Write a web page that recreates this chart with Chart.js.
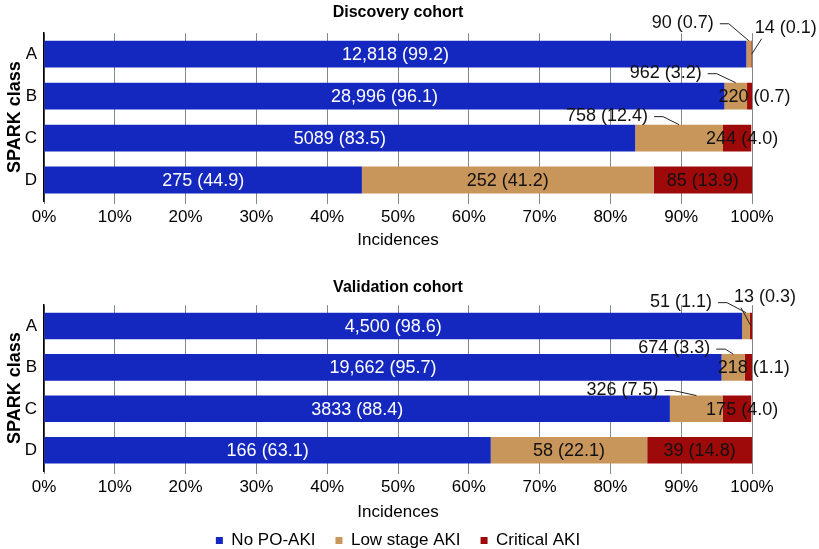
<!DOCTYPE html>
<html>
<head>
<meta charset="utf-8">
<script src="https://cdn.jsdelivr.net/npm/chart.js@4"></script>
<style>
  body { margin: 0; background: #fff; }
  canvas { display: block; }
</style>
</head>
<body>
<canvas id="discChart" width="819" height="270"></canvas>
<canvas id="valChart" width="819" height="279"></canvas>
<script>
"use strict";

// SPARK-klasser och serier
const classes = ['A', 'B', 'C', 'D'];
const seriesNames = ['No PO-AKI', 'Low stage AKI', 'Critical AKI'];
const xTicks = [0, 10, 20, 30, 40, 50, 60, 70, 80, 90, 100];

// Discovery cohort: antal och procent
const discNoAkiN = ['12,818', '28,996', '5089', '275'];
const discNoAkiPct = [99.2, 96.1, 83.5, 44.9];
const discLowN = ['90', '962', '758', '252'];
const discLowPct = [0.7, 3.2, 12.4, 41.2];
const discCritN = ['14', '220', '244', '85'];
const discCritPct = [0.1, 0.7, 4.0, 13.9];

// Validation cohort: antal och procent
const valNoAkiN = ['4,500', '19,662', '3833', '166'];
const valNoAkiPct = [98.6, 95.7, 88.4, 63.1];
const valLowN = ['51', '674', '326', '58'];
const valLowPct = [1.1, 3.3, 7.5, 22.1];
const valCritN = ['13', '218', '175', '39'];
const valCritPct = [0.3, 1.1, 4.0, 14.8];

const colors = ['#1428bf', '#c8955a', '#9e0a0a'];
const FONT = '"Liberation Sans", Arial, Helvetica, sans-serif';

// callouts: dataset, rad, förskjutning från segmentets topp-mitt
const discCallouts = [
  { ds: 1, row: 0, dx: -35, dy: -18, align: 'right' },
  { ds: 2, row: 0, dx: 3, dy: -13, align: 'left' },
  { ds: 1, row: 1, dx: -34, dy: -10, align: 'right' },
  { ds: 1, row: 2, dx: -31, dy: -9, align: 'right' }
];
const valCallouts = [
  { ds: 1, row: 0, dx: -34, dy: -11, align: 'right' },
  { ds: 2, row: 0, dx: -17, dy: -16, align: 'left' },
  { ds: 1, row: 1, dx: -23, dy: -6, align: 'right' },
  { ds: 1, row: 2, dx: -38, dy: -6, align: 'right' }
];

// Plugin som skriver ut etiketterna på staplarna
const barLabels = {
  id: 'barLabels',
  afterDatasetsDraw(chart, args, opts) {
    const ctx = chart.ctx;
    ctx.save();
    ctx.font = '18px ' + FONT;
    ctx.textBaseline = 'middle';
    chart.data.datasets.forEach((ds, di) => {
      const meta = chart.getDatasetMeta(di);
      meta.data.forEach((bar, i) => {
        const text = ds.counts[i] + ' (' + ds.data[i].toFixed(1) + ')';
        const left = bar.base, right = bar.x;
        const cx = (left + right) / 2;
        const top = bar.y - bar.height / 2;
        const call = opts.callouts.find(c => c.ds === di && c.row === i);
        ctx.fillStyle = di === 0 ? '#fff' : '#111';
        if (call) {
          const tx = cx + call.dx, ty = top + call.dy;
          ctx.fillStyle = '#111';
          ctx.textAlign = call.align;
          ctx.fillText(text, tx, ty);
          ctx.strokeStyle = '#222';
          ctx.lineWidth = 1;
          ctx.beginPath();
          if (call.align === 'right') {
            ctx.moveTo(tx + 6, ty + 1);
            ctx.lineTo(tx + 15, ty + 1);
            ctx.lineTo(cx, top);
          } else {
            ctx.moveTo(tx + 7, ty + 11);
            ctx.lineTo(cx, bar.y);
          }
          ctx.stroke();
        } else {
          const w = ctx.measureText(text).width;
          ctx.textAlign = 'center';
          ctx.fillText(text, w > right - left ? cx + 5 : cx, bar.y + 1);
        }
      });
    });
    ctx.restore();
  }
};

function makeDatasets(pcts, counts) {
  return seriesNames.map((name, k) => ({
    label: name,
    data: pcts[k],
    counts: counts[k],
    backgroundColor: colors[k],
    borderWidth: 0,
    barPercentage: 0.64,
    categoryPercentage: 1
  }));
}

function drawPanel(id, title, pcts, counts, callouts, showLegend, opt) {
  const ctx = document.getElementById(id);
  new Chart(ctx, {
    type: 'bar',
    data: { labels: classes, datasets: makeDatasets(pcts, counts) },
    plugins: [barLabels],
    options: {
      indexAxis: 'y',
      responsive: false,
      animation: false,
      layout: { padding: { left: 0, right: 67, top: 0, bottom: opt.bottomPad } },
      plugins: {
        barLabels: { callouts: callouts },
        tooltip: { enabled: false },
        title: {
          display: true,
          text: title,
          fullSize: false,
          color: '#000',
          font: { family: FONT, size: 16, weight: 'bold' },
          padding: { top: opt.titleTop, bottom: opt.titleBottom }
        },
        legend: {
          display: showLegend,
          position: 'bottom',
          fullSize: false,
          labels: {
            color: '#000',
            font: { family: FONT, size: 17 },
            boxWidth: 7,
            boxHeight: 7,
            padding: 20
          }
        }
      },
      scales: {
        x: {
          stacked: true,
          min: 0,
          max: 100,
          afterBuildTicks: scale => { scale.ticks = xTicks.map(v => ({ value: v })); },
          afterFit: scale => { scale.height = opt.xHeight; },
          grid: { color: '#7d8a90', lineWidth: 1, drawTicks: true, tickLength: 3 },
          border: { display: false },
          ticks: {
            color: '#000',
            font: { family: FONT, size: 17 },
            padding: 3,
            maxRotation: 0,
            callback: v => v + '%'
          },
          title: {
            display: true,
            text: 'Incidences',
            color: '#000',
            font: { family: FONT, size: 17 },
            padding: { top: 0, bottom: opt.xTitleBottom }
          }
        },
        y: {
          stacked: true,
          afterFit: scale => { scale.width = 44; },
          grid: { display: false, drawTicks: false },
          border: { display: true, color: '#000', width: 1.5 },
          ticks: { color: '#000', font: { family: FONT, size: 17 }, padding: 7 },
          title: {
            display: true,
            text: 'SPARK class',
            color: '#000',
            font: { family: FONT, size: 18, weight: 'bold' },
            padding: { top: 4, bottom: 0 }
          }
        }
      }
    }
  });
}

drawPanel('discChart', 'Discovery cohort',
  [discNoAkiPct, discLowPct, discCritPct],
  [discNoAkiN, discLowN, discCritN],
  discCallouts, false,
  { titleTop: 3, titleBottom: 11, xHeight: 69, xTitleBottom: 19, bottomPad: 0 });

drawPanel('valChart', 'Validation cohort',
  [valNoAkiPct, valLowPct, valCritPct],
  [valNoAkiN, valLowN, valCritN],
  valCallouts, true,
  { titleTop: 8, titleBottom: 8, xHeight: 41, xTitleBottom: -11, bottomPad: -10 });
</script>
</body>
</html>
